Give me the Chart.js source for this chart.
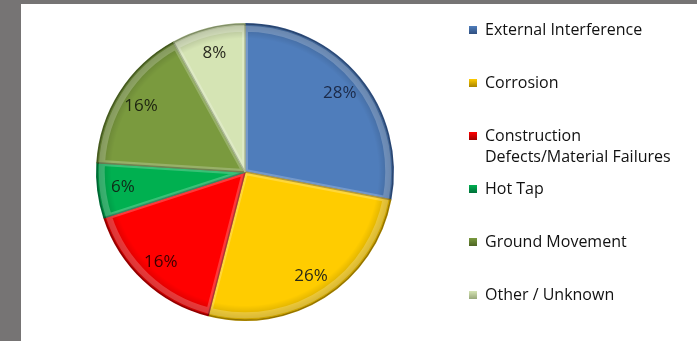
<!DOCTYPE html>
<html>
<head>
<meta charset="utf-8">
<script src="https://cdn.jsdelivr.net/npm/chart.js@4.4.0/dist/chart.umd.min.js"></script>
<style>
  html, body { margin: 0; padding: 0; }
  body { width: 697px; height: 341px; background: #767474; overflow: hidden; position: relative; }
  #panel { position: absolute; left: 21px; top: 4px; width: 676px; height: 337px; background: #fff; }
  #panel canvas { position: absolute; left: 0; top: 0; }
</style>
</head>
<body>
<div id="panel"><canvas id="pie" width="676" height="337"></canvas></div>
<script>
// causes of pipeline incidents, percent share
const causes = [
  ["External Interference"],
  ["Corrosion"],
  ["Construction", "Defects/Material Failures"],
  ["Hot Tap"],
  ["Ground Movement"],
  ["Other / Unknown"],
];
const shares = [28, 26, 16, 6, 16, 8];
const fills  = ["#4f7dbb", "#ffcc00", "#ff0000", "#00b050", "#7a9a3e", "#d5e4b4"];
const edges  = ["#2f4f80", "#a88400", "#a00000", "#00703a", "#4d6424", "#98a87a"];
const labelInk = ["#1c2a48", "#2a2a18", "#3a0000", "#0f2a18", "#1d2410", "#2a2a20"];

// shaded rim + inner bevel so the slices look raised
const bevel = {
  id: "bevel",
  afterDatasetsDraw(chart) {
    const ctx = chart.ctx;
    chart.getDatasetMeta(0).data.forEach((arc, i) => {
      const { x, y, startAngle, endAngle, outerRadius } = arc.getProps(["x", "y", "startAngle", "endAngle", "outerRadius"], true);
      ctx.save();
      ctx.beginPath();
      ctx.moveTo(x, y);
      ctx.arc(x, y, outerRadius, startAngle, endAngle);
      ctx.closePath();
      ctx.clip();
      // darker rim
      const g = ctx.createRadialGradient(x, y, outerRadius * 0.9, x, y, outerRadius);
      g.addColorStop(0, "rgba(0,0,0,0)");
      g.addColorStop(1, "rgba(0,0,0,0.22)");
      ctx.fillStyle = g;
      ctx.fillRect(x - outerRadius, y - outerRadius, outerRadius * 2, outerRadius * 2);
      // light inner edge along the slice outline
      ctx.beginPath();
      ctx.moveTo(x, y);
      ctx.arc(x, y, outerRadius - 5, startAngle, endAngle);
      ctx.closePath();
      ctx.lineWidth = 6;
      ctx.strokeStyle = "rgba(255,255,255,0.22)";
      ctx.stroke();
      ctx.restore();
    });
  }
};

// percentage text inside each slice
const sliceLabels = {
  id: "sliceLabels",
  afterDatasetsDraw(chart) {
    const ctx = chart.ctx;
    ctx.save();
    ctx.font = "17px 'Open Sans'";
    ctx.textAlign = "center";
    ctx.textBaseline = "middle";
    chart.getDatasetMeta(0).data.forEach((arc, i) => {
      const { x, y, startAngle, endAngle, outerRadius } = arc.getProps(["x", "y", "startAngle", "endAngle", "outerRadius"], true);
      const mid = (startAngle + endAngle) / 2;
      const r = outerRadius * 0.83;
      ctx.fillStyle = labelInk[i];
      ctx.fillText(shares[i] + "%", x + Math.cos(mid) * r, y + Math.sin(mid) * r);
    });
    ctx.restore();
  }
};

// legend on the right, one block per cause
const sideLegend = {
  id: "sideLegend",
  afterDraw(chart) {
    const ctx = chart.ctx;
    const left = 448, rowTop = 26, rowStep = 53, lineH = 21;
    ctx.save();
    ctx.font = "16px 'Open Sans'";
    ctx.textBaseline = "middle";
    causes.forEach((lines, i) => {
      const cy = rowTop + i * rowStep;
      const g = ctx.createLinearGradient(left, cy - 4, left, cy + 4);
      g.addColorStop(0, fills[i]);
      g.addColorStop(1, edges[i]);
      ctx.fillStyle = g;
      ctx.fillRect(left, cy - 4, 8, 8);
      ctx.fillStyle = "#111";
      lines.forEach((t, k) => ctx.fillText(t, left + 16, cy + k * lineH));
    });
    ctx.restore();
  }
};

new Chart(document.getElementById("pie"), {
  type: "pie",
  data: {
    labels: causes.map(c => c.join(" ")),
    datasets: [{
      data: shares,
      backgroundColor: fills,
      borderColor: edges,
      borderWidth: 1.5,
    }]
  },
  options: {
    responsive: false,
    animation: false,
    layout: { padding: { left: 73, right: 301, top: 19, bottom: 20 } },
    plugins: { legend: { display: false }, tooltip: { enabled: false } }
  },
  plugins: [bevel, sliceLabels, sideLegend]
});
</script>
</body>
</html>
